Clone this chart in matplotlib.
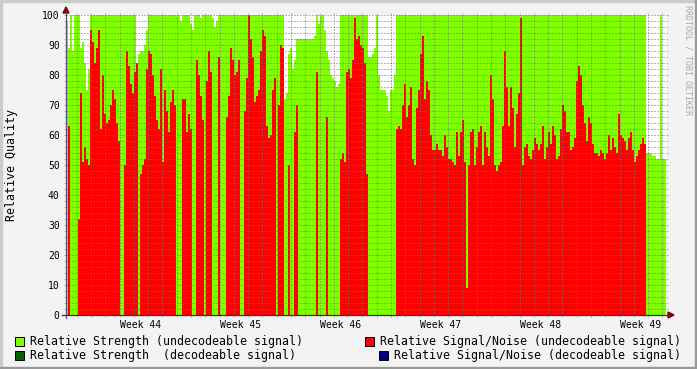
import numpy as np
import matplotlib
matplotlib.use("Agg")
import matplotlib.pyplot as plt
import matplotlib.transforms as mtransforms
from matplotlib.patches import Rectangle, Polygon
from matplotlib.lines import Line2D

# relative strength, undecodeable signal (one value per ~3.4 h)
strength = [
    98, 89, 100, 88, 100, 100, 100, 89, 91, 84,
    75, 82, 100, 100, 100, 100, 100, 100, 100, 100,
    100, 100, 100, 100, 100, 100, 100, 100, 100, 100,
    100, 100, 100, 100, 100, 84, 87, 88, 88, 90,
    95, 100, 100, 100, 100, 100, 100, 100, 100, 100,
    100, 100, 100, 100, 100, 100, 100, 98, 100, 100,
    100, 100, 97, 95, 100, 100, 100, 99, 100, 100,
    100, 100, 100, 99, 96, 98, 100, 100, 100, 100,
    100, 100, 100, 100, 100, 100, 100, 100, 100, 100,
    100, 100, 100, 100, 100, 100, 100, 100, 100, 100,
    100, 100, 100, 100, 100, 100, 100, 100, 100, 72,
    74, 87, 89, 82, 85, 92, 92, 92, 92, 92,
    92, 92, 92, 92, 93, 100, 97, 100, 100, 95,
    88, 85, 80, 79, 78, 76, 77, 100, 100, 100,
    100, 100, 100, 100, 100, 100, 100, 100, 100, 100,
    100, 86, 86, 87, 89, 100, 80, 75, 75, 75,
    73, 68, 75, 75, 80, 100, 100, 100, 100, 100,
    100, 100, 100, 100, 100, 100, 100, 100, 100, 100,
    100, 100, 100, 100, 100, 100, 100, 100, 100, 100,
    100, 100, 100, 100, 100, 100, 100, 100, 100, 100,
    100, 100, 100, 100, 100, 100, 100, 100, 100, 100,
    100, 100, 100, 100, 100, 100, 100, 100, 100, 100,
    100, 100, 100, 100, 100, 100, 100, 100, 100, 100,
    100, 100, 100, 100, 100, 100, 100, 100, 100, 100,
    100, 100, 100, 100, 100, 100, 100, 100, 100, 100,
    100, 100, 100, 100, 100, 100, 100, 100, 100, 100,
    100, 100, 100, 100, 100, 100, 100, 100, 100, 100,
    100, 100, 100, 100, 100, 100, 100, 100, 100, 100,
    100, 100, 100, 100, 100, 100, 100, 100, 100, 100,
    54, 54, 54, 53, 53, 52, 52, 100, 52, 52,
]

# relative signal/noise, undecodeable signal
snr = [
    0, 63, 0, 0, 0, 0, 32, 74, 51, 56,
    52, 50, 95, 91, 84, 89, 95, 62, 80, 67,
    64, 65, 70, 75, 72, 64, 58, 0, 0, 50,
    88, 83, 77, 74, 81, 84, 0, 47, 50, 52,
    82, 88, 87, 80, 73, 65, 62, 82, 51, 75,
    68, 61, 71, 75, 70, 0, 0, 0, 72, 72,
    61, 67, 62, 0, 0, 85, 80, 73, 65, 0,
    78, 88, 81, 0, 0, 0, 86, 0, 0, 0,
    66, 73, 89, 85, 80, 81, 85, 0, 0, 68,
    79, 100, 92, 86, 71, 73, 75, 88, 95, 93,
    63, 59, 60, 75, 79, 0, 70, 90, 89, 0,
    0, 50, 0, 0, 61, 70, 0, 0, 0, 0,
    0, 0, 0, 0, 0, 81, 0, 0, 0, 0,
    66, 0, 0, 0, 0, 0, 0, 52, 54, 51,
    81, 82, 79, 85, 99, 92, 93, 90, 89, 84,
    47, 0, 0, 0, 0, 0, 0, 0, 0, 0,
    0, 0, 0, 0, 0, 62, 63, 62, 70, 77,
    66, 70, 76, 52, 50, 69, 75, 87, 93, 72,
    78, 75, 60, 55, 55, 57, 55, 55, 53, 60,
    56, 52, 52, 51, 50, 61, 53, 61, 65, 51,
    9, 50, 61, 62, 50, 56, 61, 63, 50, 61,
    56, 53, 80, 72, 50, 48, 50, 51, 63, 88,
    76, 63, 76, 69, 56, 67, 74, 99, 50, 56,
    57, 53, 52, 55, 59, 57, 55, 57, 63, 52,
    56, 61, 57, 63, 60, 52, 53, 62, 70, 68,
    61, 61, 55, 56, 59, 78, 83, 80, 70, 64,
    58, 66, 64, 57, 54, 54, 53, 55, 54, 52,
    54, 60, 55, 59, 56, 54, 67, 60, 59, 58,
    55, 59, 61, 55, 51, 53, 55, 57, 59, 57,
    0, 0, 0, 0, 0, 0, 0, 0, 0, 0,
]

weeks = ["Week 44", "Week 45", "Week 46", "Week 47", "Week 48", "Week 49"]
ndays = 42
first_monday = 1.75   # days from left edge to first week boundary

legend_items = [
    ("Relative Strength (undecodeable signal)", "#80FF00"),
    ("Relative Strength  (decodeable signal)", "#006400"),
    ("Relative Signal/Noise (undecodeable signal)", "#FF0000"),
    ("Relative Signal/Noise (decodeable signal)", "#000080"),
]

plt.rcParams['font.family'] = ['DejaVu Sans Mono']

W, H = 697, 369
fig = plt.figure(figsize=(W / 100, H / 100), dpi=100, facecolor="#F3F3F3")
# pixel coordinates (origin top-left) -> figure
px = mtransforms.Affine2D().scale(1 / W, -1 / H).translate(0, 1) + fig.transFigure

ax = fig.add_axes([66 / W, 54 / H, 600 / W, 300 / H])
ax.set_facecolor("white")

edges = np.linspace(0, ndays, len(strength) + 1)
ax.stairs(strength, edges, fill=True, color=legend_items[0][1], baseline=0, lw=0, antialiased=False)
ax.stairs(snr, edges, fill=True, color=legend_items[2][1], baseline=0, lw=0, antialiased=False)

ax.set_xlim(0, ndays)
ax.set_ylim(0, 100)
week_lines = [first_monday + 7 * k for k in range(len(weeks))]
ax.set_xticks(week_lines)
ax.set_xticks([first_monday - 1 + d for d in range(ndays)], minor=True)
ax.set_xticklabels([])
ax.set_yticks(range(0, 101, 10))
ax.set_yticks(range(0, 101, 2), minor=True)

ax.set_axisbelow(False)
ax.grid(which="minor", color=(0.45, 0.45, 0.45, 0.45), linestyle=(0, (1, 2)), lw=0.72)
ax.grid(which="major", color=(0.85, 0.25, 0.25, 0.55), linestyle=(0, (1, 2)), lw=0.72)
for s in ax.spines.values():
    s.set_visible(False)
ax.tick_params(which="both", direction="out", length=1.5, width=0.72,
               left=True, right=True, top=True, bottom=True)
ax.tick_params(which="minor", color="#b8b8b8")
ax.tick_params(which="major", color="#e09090", labelsize=7, pad=3)

for k, w in enumerate(weeks):
    ax.text(week_lines[k] + 3.5, -10 / 300, w, transform=ax.get_xaxis_transform(),
            ha="center", va="center", fontsize=7)

# axes with arrows
fig.add_artist(Line2D([66, 66], [318, 12], color="#505070", lw=0.9, transform=px))
fig.add_artist(Line2D([62, 670], [315, 315], color="#303060", lw=0.9, transform=px))
fig.add_artist(Polygon([[63, 13], [69, 13], [66, 7]], closed=True, color="#7F0000", transform=px))
fig.add_artist(Polygon([[668, 312], [668, 318], [674, 315]], closed=True, color="#7F0000", transform=px))

fig.text(12 / W, 1 - 165 / H, "Relative Quality", rotation=90, ha="center", va="center", fontsize=8.4)
fig.text(688 / W, 1 - 5 / H, "RRDTOOL / TOBI OETIKER", rotation=270, ha="center", va="top",
         fontsize=6, color="#a8a8a8")

# legend
boxes = [(15, 337, 30), (15, 351, 30), (365, 337, 380), (379, 351, 394)]
for (label, col), (bx, by, tx) in zip(legend_items, boxes):
    fig.add_artist(Rectangle((bx, by), 9, 9, facecolor=col, edgecolor="black", lw=0.72, transform=px))
    fig.text(tx / W, 1 - (by + 4.5) / H, label, ha="left", va="center", fontsize=8.36)

# shaded border
fig.add_artist(Rectangle((0, 0), W, 2, color="#CBCBCB", transform=px))
fig.add_artist(Rectangle((0, 0), 2, H, color="#CBCBCB", transform=px))
fig.add_artist(Rectangle((0, H - 2), W, 2, color="#999999", transform=px))
fig.add_artist(Rectangle((W - 2, 0), 2, H, color="#999999", transform=px))

fig.savefig("out.png", dpi=100, facecolor=fig.get_facecolor())
